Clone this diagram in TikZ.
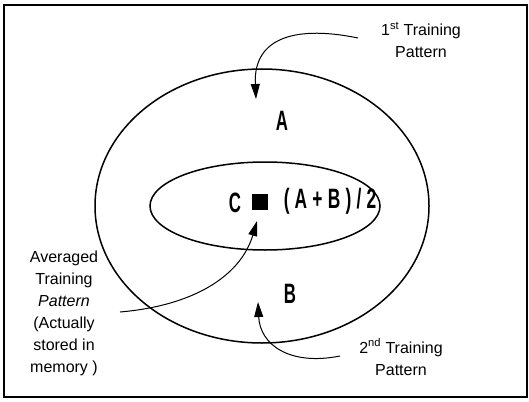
\documentclass[tikz,border=0pt]{standalone}
\usepackage{fontspec}
\setmainfont{Liberation Sans}
\usetikzlibrary{arrows.meta,shapes.geometric}
\begin{document}
\begin{tikzpicture}[x=1pt,y=-1pt,
 lbl/.style={font=\fontsize{16}{22}\selectfont, align=center, inner sep=0pt},
 big/.style={font=\fontsize{28}{30}\selectfont\bfseries, inner sep=0pt},
 ell/.style={draw, ellipse, line width=1.5pt, inner sep=0pt},
 arr/.style={line width=1pt, -{Triangle[length=15pt,width=9pt]}}]
\useasboundingbox (0,0) rectangle (529,401);
\draw[line width=1.2pt] (4,5) rectangle (527,397);
\node[ell, minimum width=334pt, minimum height=274pt] (outer) at (262,206) {};
\node[ell, minimum width=230pt, minimum height=88pt] (inner) at (265,206) {};
\node[big] (A) at (282,121) {\scalebox{0.6}[1]{A}};
\node[big] (B) at (290,294) {\scalebox{0.6}[1]{B}};
\node[big] (C) at (235,203) {\scalebox{0.6}[1]{C}};
\node[fill=black, minimum size=16pt, inner sep=0pt] (sq) at (260,202) {};
\node[big] (f) at (330,201) {\scalebox{0.62}[1]{\addfontfeature{LetterSpace=30}(A+B)/2}};
\node[lbl] (t1) at (421,40) {1\textsuperscript{st} Training\\Pattern};
\node[lbl] (t2) at (401,357) {2\textsuperscript{nd} Training\\Pattern};
\node[lbl] (t3) at (64,313) {Averaged\\Training\\\textit{Pattern}\\(Actually\\stored in\\memory )};
\coordinate (s1) at (358,38);
\coordinate (e1) at (256,99);
\coordinate (s2) at (120,312);
\coordinate (e2) at (257,221);
\coordinate (s3) at (340,356);
\coordinate (e3) at (258,302);
\draw[arr] (s1) .. controls (300,26) and (253,35) .. (e1);
\draw[arr] (s2) .. controls (200,305) and (242,272) .. (e2);
\draw[arr] (s3) .. controls (290,366) and (260,345) .. (e3);
\end{tikzpicture}
\end{document}
